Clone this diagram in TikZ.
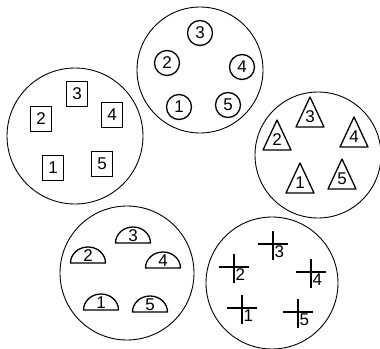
\documentclass[tikz,border=0pt]{standalone}
\usepackage{fontspec}
\setmainfont{Liberation Sans}
\begin{document}
\begin{tikzpicture}[x=1pt,y=-1pt,
  big/.style={draw=black,line width=0.9pt},
  item/.style={draw=black,line width=1.3pt},
  num/.style={inner sep=0pt,font=\fontsize{17}{17}\selectfont}]
\useasboundingbox (0,0) rectangle (380,348);
% big circles
\draw[big] (200,70) circle (63);
\draw[big] (75,136) circle (68);
\draw[big] (318,155) circle (63);
\draw[big] (127,273) circle (67);
\draw[big] (272,283) circle (66);
% top: circles
\foreach \n/\x/\y in {3/200/33,2/167/63,4/242/67,1/179/107,5/228/105}{
  \draw[item] (\x,\y) circle (12.5);
  \node[num] at (\x,\y) {\n};
}
% left: squares
\foreach \n/\x/\y in {3/77/94,2/41/119,4/112/115,1/53/168,5/102/164}{
  \draw[item] (\x-10.5,\y-12.5) rectangle (\x+10.5,\y+12.5);
  \node[num] at (\x,\y) {\n};
}
% right: triangles
\foreach \n/\x/\y in {3/310/97,2/277/120,4/354/117,1/300/163,5/342/159}{
  \draw[item,line join=round] (\x,\y) -- (\x+14,\y+30) -- (\x-14,\y+30) -- cycle;
  \node[num] at (\x,\y+20) {\n};
}
% bottom-left: half discs
\foreach \n/\x/\y in {3/133/243,2/88/263,4/163/268,1/101/310,5/150/312}{
  \draw[item,line join=round] (\x-17.5,\y) arc (180:360:17.5 and 16) -- cycle;
  \node[num] at (\x,\y-7.5) {\n};
}
% bottom-right: crosses
\foreach \n/\x/\y in {3/273/244,2/234/267,4/311/272,1/242/308,5/298/312}{
  \draw[item] (\x-15,\y) -- (\x+15,\y);
  \draw[item] (\x,\y-13) -- (\x,\y+16);
  \node[num,anchor=north west] at (\x+1.5,\y+1.5) {\n};
}
\end{tikzpicture}
\end{document}
